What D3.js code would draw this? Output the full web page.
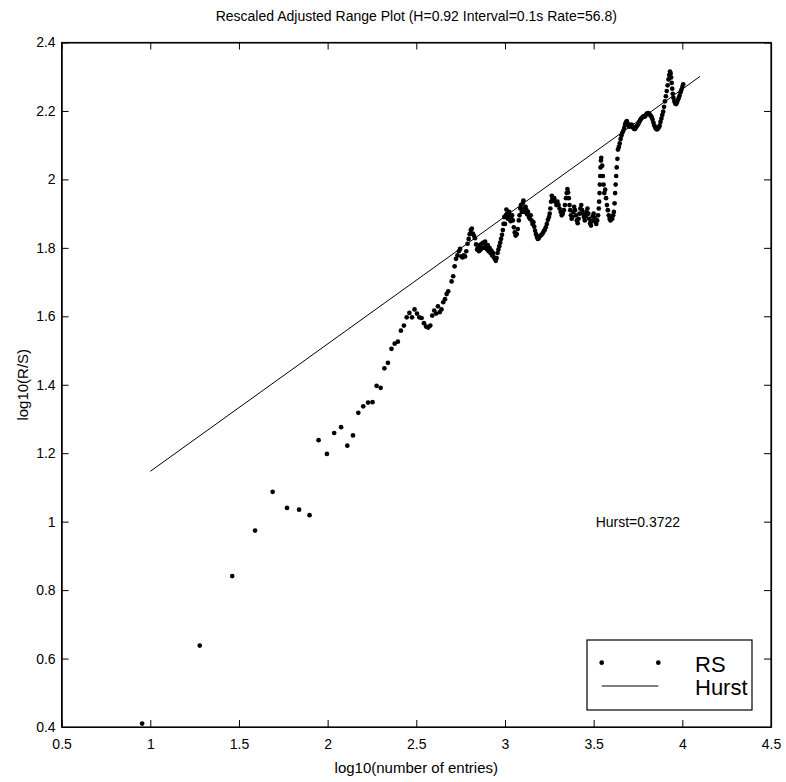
<!DOCTYPE html>
<html><head><meta charset="utf-8">
<script src="https://cdn.jsdelivr.net/npm/d3@7"></script>
<style>
body{margin:0;background:#fff}
svg{display:block}
text{font-family:Arial,"Liberation Sans",Helvetica,sans-serif;fill:#000}
</style>
</head><body>
<svg id="c" width="786" height="782"></svg>
<script>
const titleText = "Rescaled Adjusted Range Plot (H=0.92 Interval=0.1s Rate=56.8)";
const xLabel = "log10(number of entries)";
const yLabel = "log10(R/S)";
const xTicks = [0.5, 1, 1.5, 2, 2.5, 3, 3.5, 4, 4.5];
const xTickLabels = ["0.5", "1", "1.5", "2", "2.5", "3", "3.5", "4", "4.5"];
const yTicks = [0.4, 0.6, 0.8, 1.0, 1.2, 1.4, 1.6, 1.8, 2.0, 2.2, 2.4];
const yTickLabels = ["0.4", "0.6", "0.8", "1", "1.2", "1.4", "1.6", "1.8", "2", "2.2", "2.4"];
const hurstX = [1.0, 4.1];
const hurstY = [1.147, 2.301];
const hurstText = "Hurst=0.3722";
const hurstTextPos = [3.5, 1.0];
const legendLabels = ["RS", "Hurst"];

const logN = [
0.954,1.279,1.462,1.591,1.690,1.771,1.839,1.898,1.949,1.996,
2.037,2.076,2.111,2.143,2.173,2.201,2.228,2.253,2.276,2.299,
2.320,2.340,2.360,2.378,2.396,2.413,2.430,2.446,2.461,2.476,
2.490,2.504,2.517,2.530,2.543,2.555,2.567,2.579,2.590,2.601,
2.612,2.622,2.632,2.642,2.652,2.662,2.671,2.680,
2.699,2.708,2.716,2.724,2.732,2.740,2.747,2.754,2.761,2.768,
2.775,2.782,2.789,2.795,2.801,2.807,2.813,2.819,2.825,2.831,
2.837,2.843,2.848,2.853,2.858,2.863,2.868,2.873,2.878,2.883,
2.888,2.893,2.898,2.903,2.908,2.913,2.918,2.923,2.928,2.933,
2.938,2.943,2.948,2.953,2.958,2.963,2.968,2.973,2.978,2.983,
2.988,2.992,2.996,
3.000,3.004,3.008,3.012,3.016,3.020,3.024,3.028,3.032,3.036,
3.040,3.044,3.050,3.055,3.060,3.066,3.072,3.078,3.082,3.086,
3.090,3.095,3.100,3.104,3.108,3.112,3.116,3.120,3.125,3.130,
3.135,3.140,3.145,3.150,3.155,3.160,3.165,3.170,3.175,3.180,
3.185,3.190,3.195,3.200,3.206,3.212,3.218,3.224,3.230,3.236,
3.242,3.248,3.252,3.256,3.260,3.264,3.268,3.272,3.278,3.284,
3.290,3.296,3.302,3.308,3.314,3.320,3.326,3.332,3.338,3.344,
3.348,3.352,3.356,3.360,3.364,3.368,3.372,3.376,3.380,3.385,
3.390,3.395,3.400,3.405,3.410,3.415,3.420,3.425,3.430,3.435,
3.440,3.445,3.450,3.455,3.460,3.465,3.470,3.475,3.480,3.485,
3.490,3.495,3.500,3.505,3.510,3.515,3.520,3.525,
3.529,3.531,3.533,3.535,3.537,3.539,3.541,3.543,
3.548,3.552,3.556,3.560,3.565,3.570,3.575,3.580,3.585,3.590,
3.595,3.600,3.605,3.610,3.614,
3.618,3.621,3.624,3.627,3.630,3.634,
3.637,3.642,3.647,3.652,3.657,3.662,3.667,3.672,3.677,3.682,
3.687,3.692,3.697,3.702,3.707,3.712,3.717,3.722,3.727,3.732,
3.737,3.742,3.747,3.752,3.757,3.762,3.767,3.772,3.777,3.782,
3.787,3.792,3.797,3.802,3.807,3.812,3.817,3.822,3.827,3.832,
3.837,3.842,3.847,3.852,3.857,3.862,3.867,3.872,3.877,3.882,
3.887,3.892,3.897,3.902,3.907,3.912,3.917,3.922,3.926,3.930,
3.934,3.937,3.940,3.943,3.946,3.950,3.955,3.960,3.965,3.970,
3.975,3.980,3.985,3.990,3.995,4.000,4.005
];

const logRS = [
0.410,0.638,0.841,0.974,1.087,1.040,1.035,1.019,1.238,1.198,
1.259,1.276,1.222,1.252,1.318,1.337,1.348,1.349,1.397,1.391,
1.448,1.464,1.505,1.520,1.526,1.558,1.573,1.597,1.610,1.597,
1.620,1.608,1.597,1.595,1.580,1.570,1.567,1.573,1.602,1.617,
1.608,1.629,1.612,1.620,1.641,1.650,1.665,1.673,
1.702,1.717,1.746,1.768,1.778,1.790,1.797,1.775,1.772,1.778,
1.775,1.790,1.812,1.826,1.840,1.852,1.856,1.842,1.835,1.828,
1.810,1.795,1.802,1.790,1.808,1.795,1.812,1.800,1.815,1.800,
1.818,1.806,1.796,1.808,1.790,1.800,1.785,1.792,1.778,1.785,
1.772,1.768,1.762,1.770,1.785,1.795,1.805,1.815,1.826,1.838,
1.852,1.870,1.890,
1.870,1.895,1.912,1.900,1.885,1.895,1.905,1.890,1.878,1.885,
1.895,1.880,1.860,1.845,1.836,1.840,1.855,1.880,1.895,1.915,
1.925,1.905,1.930,1.938,1.915,1.905,1.920,1.912,1.898,1.905,
1.890,1.885,1.895,1.880,1.870,1.875,1.862,1.850,1.840,1.832,
1.826,1.828,1.833,1.836,1.838,1.842,1.848,1.852,1.860,1.870,
1.882,1.890,1.900,1.915,1.935,1.952,1.945,1.938,1.945,1.935,
1.925,1.935,1.925,1.915,1.905,1.895,1.900,1.910,1.925,1.945,
1.960,1.972,1.962,1.945,1.925,1.910,1.895,1.885,1.890,1.905,
1.920,1.910,1.895,1.880,1.872,1.885,1.900,1.915,1.925,1.910,
1.900,1.890,1.880,1.892,1.905,1.915,1.900,1.885,1.872,1.865,
1.878,1.892,1.900,1.888,1.876,1.870,1.880,1.895,
1.915,1.935,1.960,1.985,2.010,2.035,2.055,2.063,
2.040,2.010,1.985,1.960,1.970,1.945,1.925,1.910,1.895,1.885,
1.880,1.890,1.885,1.895,1.905,
1.930,1.960,1.985,2.010,2.035,2.060,
2.087,2.095,2.105,2.118,2.128,2.136,2.142,2.150,2.160,2.167,
2.170,2.163,2.157,2.154,2.156,2.160,2.158,2.152,2.148,2.147,
2.150,2.155,2.158,2.162,2.168,2.173,2.177,2.180,2.182,2.185,
2.183,2.186,2.190,2.193,2.194,2.192,2.189,2.186,2.182,2.175,
2.166,2.158,2.152,2.148,2.146,2.148,2.152,2.157,2.168,2.178,
2.188,2.198,2.212,2.228,2.243,2.258,2.275,2.292,2.305,2.315,
2.310,2.298,2.282,2.265,2.250,2.238,2.228,2.222,2.220,2.225,
2.232,2.238,2.245,2.255,2.262,2.270,2.278
];

const W = 786, H = 782;
const L = 61.6, R = 771, T = 42.5, B = 727;
const svg = d3.select("#c");
const x = d3.scaleLinear().domain([0.5, 4.5]).range([L, R]);
const y = d3.scaleLinear().domain([0.4, 2.4]).range([B, T]);
const tickLen = 7;

function styleAxis(g) {
  g.selectAll("path.domain").attr("stroke", "#000").attr("stroke-width", 1.2);
  g.selectAll(".tick line").attr("stroke", "#000").attr("stroke-width", 1);
  g.selectAll(".tick text").attr("font-size", 14).attr("fill", "#000")
    .attr("font-family", "Arial, 'Liberation Sans', Helvetica, sans-serif");
}

svg.append("g").attr("transform", `translate(0,${B})`)
  .call(d3.axisBottom(x).tickValues(xTicks).tickFormat((d, i) => xTickLabels[i])
    .tickSizeInner(-tickLen).tickSizeOuter(0).tickPadding(12))
  .call(styleAxis);
svg.append("g").attr("transform", `translate(0,${T})`)
  .call(d3.axisTop(x).tickValues(xTicks).tickFormat("")
    .tickSizeInner(-tickLen).tickSizeOuter(0))
  .call(styleAxis);
svg.append("g").attr("transform", `translate(${L},0)`)
  .call(d3.axisLeft(y).tickValues(yTicks).tickFormat((d, i) => yTickLabels[i])
    .tickSizeInner(-tickLen).tickSizeOuter(0).tickPadding(6))
  .call(styleAxis);
svg.append("g").attr("transform", `translate(${R},0)`)
  .call(d3.axisRight(y).tickValues(yTicks).tickFormat("")
    .tickSizeInner(-tickLen).tickSizeOuter(0))
  .call(styleAxis);

svg.append("line")
  .attr("x1", x(hurstX[0])).attr("y1", y(hurstY[0]))
  .attr("x2", x(hurstX[1])).attr("y2", y(hurstY[1]))
  .attr("stroke", "#000").attr("stroke-width", 1);

const pts = d3.zip(logN, logRS);
svg.append("g").selectAll("circle").data(pts).join("circle")
  .attr("cx", d => x(d[0])).attr("cy", d => y(d[1]))
  .attr("r", 2.35).attr("fill", "#000");

svg.append("text").attr("x", x(hurstTextPos[0]) + 2).attr("y", y(hurstTextPos[1]))
  .attr("dy", "0.35em").attr("font-size", 14).text(hurstText);

const lg = svg.append("g");
lg.append("rect").attr("x", 587).attr("y", 640).attr("width", 165).attr("height", 70)
  .attr("fill", "#fff").attr("stroke", "#000").attr("stroke-width", 1.2);
lg.append("circle").attr("cx", 601.7).attr("cy", 662.7).attr("r", 2.35).attr("fill", "#000");
lg.append("circle").attr("cx", 658.3).attr("cy", 662.7).attr("r", 2.35).attr("fill", "#000");
lg.append("line").attr("x1", 601.7).attr("x2", 658.3).attr("y1", 686).attr("y2", 686)
  .attr("stroke", "#000").attr("stroke-width", 1);
lg.append("text").attr("x", 695).attr("y", 671.5).attr("font-size", 22).text(legendLabels[0]);
lg.append("text").attr("x", 695).attr("y", 694.5).attr("font-size", 22).text(legendLabels[1]);

svg.append("rect").attr("x", L).attr("y", T).attr("width", R - L).attr("height", B - T)
  .attr("fill", "none").attr("stroke", "#000").attr("stroke-width", 1.2);

svg.append("text").attr("x", (L + R) / 2).attr("y", 21).attr("text-anchor", "middle")
  .attr("font-size", 14).text(titleText);
svg.append("text").attr("x", (L + R) / 2).attr("y", 773).attr("text-anchor", "middle")
  .attr("font-size", 15).text(xLabel);
svg.append("text").attr("transform", `translate(28,${(T + B) / 2}) rotate(-90)`)
  .attr("text-anchor", "middle").attr("font-size", 15).text(yLabel);
</script>
</body></html>
